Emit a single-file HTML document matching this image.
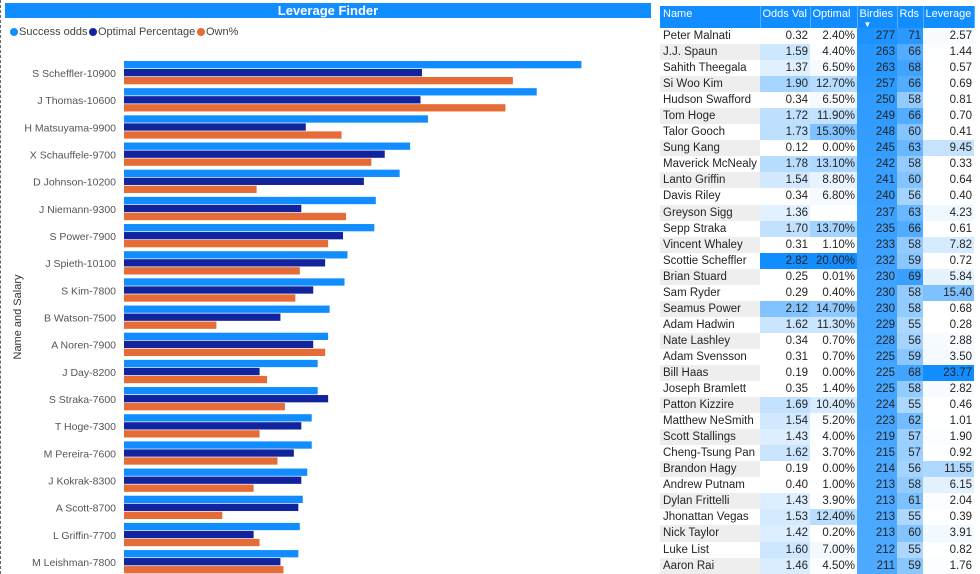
<!DOCTYPE html>
<html><head><meta charset="utf-8">
<style>
body{margin:0;width:980px;height:574px;overflow:hidden;background:#fff;font-family:"Liberation Sans",sans-serif;position:relative}
#left{position:absolute;left:0;top:0;width:652px;height:574px;border-left:1px dashed #666;box-sizing:border-box}
#title{position:absolute;left:4px;top:3px;width:646px;height:15px;background:#118DFF;color:#fff;font-weight:bold;font-size:13px;text-align:center;line-height:15px}
.leg{position:absolute;top:26px;font-size:11px;color:#444;white-space:nowrap}
.dot{display:inline-block;width:8px;height:8px;border-radius:50%;margin-right:1px;vertical-align:-1px}
table{position:absolute;left:660px;top:6px;width:314px;table-layout:fixed;border-collapse:collapse;font-size:11.5px;color:#252423}
td,th{padding:0 2px;height:16.06px;line-height:16px;white-space:nowrap;overflow:hidden;box-sizing:border-box}
th{background:#118DFF;color:#fff;font-weight:normal;text-align:left;height:22px;vertical-align:top;border-right:1px solid #5aafff;font-size:11px}
td{text-align:right}
td.n{text-align:left;padding-left:3px}
</style></head><body>
<div id="left">
<div id="title">Leverage Finder</div>
<div class="leg" style="left:9px"><span class="dot" style="background:#118DFF"></span>Success odds</div>
<div class="leg" style="left:88px"><span class="dot" style="background:#12239E"></span>Optimal Percentage</div>
<div class="leg" style="left:196px"><span class="dot" style="background:#E66C37"></span>Own%</div>
<svg id="chart" width="652" height="574" style="position:absolute;left:0;top:0">
<text x="20" y="317" transform="rotate(-90 20 317)" text-anchor="middle" font-size="11" fill="#333">Name and Salary</text>
</svg>
</div>
<table id="tbl">
<colgroup><col style="width:100px"><col style="width:50px"><col style="width:47px"><col style="width:40px"><col style="width:26px"><col style="width:51px"></colgroup>
<thead><tr>
<th style="padding-left:3px">Name</th>
<th>Odds Val</th>
<th>Optimal</th>
<th>Birdies<div style="font-size:8px;line-height:6px;padding-left:4px">▼</div></th>
<th>Rds</th>
<th>Leverage</th>
</tr></thead><tbody id="tb"></tbody></table>
<script>
const categories=["S Scheffler-10900","J Thomas-10600","H Matsuyama-9900","X Schauffele-9700","D Johnson-10200","J Niemann-9300","S Power-7900","J Spieth-10100","S Kim-7800","B Watson-7500","A Noren-7900","J Day-8200","S Straka-7600","T Hoge-7300","M Pereira-7600","J Kokrak-8300","A Scott-8700","L Griffin-7700","M Leishman-7800"];
const successOdds=[30.7,27.7,20.4,19.2,18.5,16.9,16.8,15.0,14.8,13.8,13.7,13.0,13.0,12.6,12.6,12.3,12.0,11.8,11.7];
const optimalPct=[20.0,19.9,12.2,17.5,16.1,11.9,14.7,13.5,12.7,10.5,12.7,9.1,13.7,11.9,11.4,11.9,11.7,8.7,10.5];
const ownPct=[26.1,25.6,14.6,16.6,8.9,14.9,13.7,11.8,11.5,6.2,13.5,9.6,10.8,9.1,10.3,8.7,6.6,9.1,10.7];
const svg=document.getElementById('chart');const NS='http://www.w3.org/2000/svg';
const x0=123,pxPer=14.9;const xS=v=>v*pxPer;const yC=i=>73+i*27.17;
const series=[[successOdds,'#118DFF','bar-success-odds'],[optimalPct,'#12239E','bar-optimal-percentage'],[ownPct,'#E66C37','bar-own']];
categories.forEach((c,i)=>{
 const t=document.createElementNS(NS,'text');t.setAttribute('x',115);t.setAttribute('y',yC(i)+4);t.setAttribute('text-anchor','end');t.setAttribute('font-size','10.5');t.setAttribute('fill','#555');t.textContent=c;
 
 
 svg.appendChild(t);
 series.forEach((s,k)=>{const r=document.createElementNS(NS,'rect');r.setAttribute('x',x0);r.setAttribute('y',yC(i)-12+k*8);r.setAttribute('width',xS(s[0][i]));r.setAttribute('height',7.3);r.setAttribute('fill',s[1]);
 
 
 svg.appendChild(r);});
});
const names=["Peter Malnati","J.J. Spaun","Sahith Theegala","Si Woo Kim","Hudson Swafford","Tom Hoge","Talor Gooch","Sung Kang","Maverick McNealy","Lanto Griffin","Davis Riley","Greyson Sigg","Sepp Straka","Vincent Whaley","Scottie Scheffler","Brian Stuard","Sam Ryder","Seamus Power","Adam Hadwin","Nate Lashley","Adam Svensson","Bill Haas","Joseph Bramlett","Patton Kizzire","Matthew NeSmith","Scott Stallings","Cheng-Tsung Pan","Brandon Hagy","Andrew Putnam","Dylan Frittelli","Jhonattan Vegas","Nick Taylor","Luke List","Aaron Rai"];
const oddsVal=[0.32,1.59,1.37,1.90,0.34,1.72,1.73,0.12,1.78,1.54,0.34,1.36,1.70,0.31,2.82,0.25,0.29,2.12,1.62,0.34,0.31,0.19,0.35,1.69,1.54,1.43,1.62,0.19,0.40,1.43,1.53,1.42,1.60,1.46];
const optimal=[2.4,4.4,6.5,12.7,6.5,11.9,15.3,0,13.1,8.8,6.8,null,13.7,1.1,20,0.01,0.4,14.7,11.3,0.7,0.7,0,1.4,10.4,5.2,4,3.7,0,1,3.9,12.4,0.2,7,4.5];
const birdies=[277,263,263,257,250,249,248,245,242,241,240,237,235,233,232,230,230,230,229,228,225,225,225,224,223,219,215,214,213,213,213,213,212,211];
const rds=[71,66,68,66,58,66,60,63,58,60,56,63,66,58,59,69,58,58,55,56,59,68,58,55,62,57,57,56,58,61,55,60,55,59];
const leverage=[2.57,1.44,0.57,0.69,0.81,0.70,0.41,9.45,0.33,0.64,0.40,4.23,0.61,7.82,0.72,5.84,15.40,0.68,0.28,2.88,3.50,23.77,2.82,0.46,1.01,1.90,0.92,11.55,6.15,2.04,0.39,3.91,0.82,1.76];
function mix(t){t=Math.max(0,Math.min(1,t));const a=[255,255,255],b=[17,141,255];return 'rgb('+a.map((v,i)=>Math.round(v+(b[i]-v)*t)).join(',')+')';}
const tb=document.getElementById('tb');
names.forEach((n,i)=>{
 const tr=document.createElement('tr');
 
 
 const cells=[
  [n,i%2?'#eeeeee':'#fff','n'],
  [oddsVal[i].toFixed(2),mix(Math.pow((oddsVal[i]-0.12)/2.7,3)*1.3)],
  [optimal[i]==null?'':optimal[i].toFixed(2)+'%',optimal[i]==null?'#fff':mix(Math.pow(optimal[i]/20,3)*1.2)],
  [birdies[i],mix(0.75+0.2*(birdies[i]-211)/66)],
  [rds[i],mix(0.35+0.55*(rds[i]-55)/16)],
  [leverage[i].toFixed(2),mix(Math.pow((leverage[i]-0.28)/23.5,1.6)*1.1)]
 ];
 cells.forEach(c=>{const td=document.createElement('td');td.textContent=c[0];td.style.background=c[1];if(c[2])td.className='n';
 
 
 tr.appendChild(td);});
 tb.appendChild(tr);
});
</script>
</body></html>
